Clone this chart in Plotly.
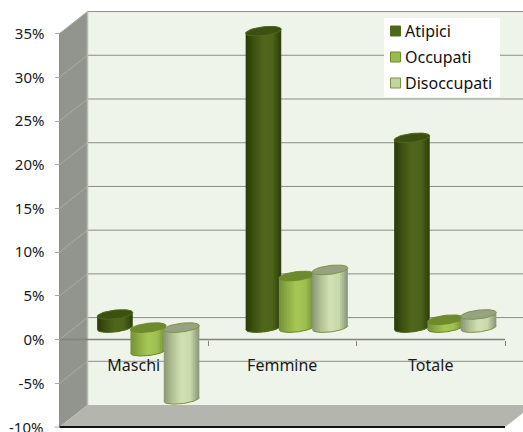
import numpy as np
import plotly.graph_objects as go

categories = ["Maschi", "Femmine", "Totale"]
atipici = [1.5, 33.9, 21.7]
occupati = [-2.7, 5.9, 0.9]
disoccupati = [-8.2, 6.6, 1.5]
y_ticks = [-10, -5, 0, 5, 10, 15, 20, 25, 30, 35]
y_labels = ["-10%", "-5%", "0%", "5%", "10%", "15%", "20%", "25%", "30%", "35%"]

W, H = 523, 432
PX_X = 148.5            # pixels per category
PX_Y = 8.744            # pixels per percentage point
X0, Y0 = 59.5, 339.6    # front-plane origin in pixels

x_range = [(0 - X0) / PX_X, (W - X0) / PX_X]
y_range = [(Y0 - H) / PX_Y, Y0 / PX_Y]

DX, DY = 28 / PX_X, 22 / PX_Y          # depth of the box
MIDX, MIDY = 14.5 / PX_X, 12 / PX_Y    # plane the cylinders stand on
STEP = 33.3 / PX_X
A, B, TILT = 17.8 / PX_X, 4.4 / PX_Y, 2.0 / PX_Y
STRIPS = 18
FONT = "Noto Sans"

series = [
    ("Atipici", atipici,
     ["#2b3b0b", "#3f5412", "#50681d", "#4d641b", "#2d3e0c"], "#3c5011", "#4f6a18", "#4f661b"),
    ("Occupati", occupati,
     ["#74903a", "#8fae45", "#a6c956", "#9dbf50", "#6f8a33"], "#6e8a2f", "#6d8a2a", "#9bbb50"),
    ("Disoccupati", disoccupati,
     ["#8b9678", "#b4c296", "#d3e2b4", "#c9d8aa", "#87937a"], "#98a283", "#7a9440", "#c3d3a3"),
]


def shade(stops, t):
    rgb = np.array([[int(c[i:i + 2], 16) for i in (1, 3, 5)] for c in stops], float)
    pos = np.linspace(0, 1, len(stops))
    return "rgb(%d,%d,%d)" % tuple(np.interp(t, pos, rgb[:, k]) for k in range(3))


def cylinder(cx, value, stops, top_color, edge):
    """Shaded strips, lower rim and cap of one cylinder, in axis units."""
    base_y, top_y = min(0, value) + MIDY, max(0, value) + MIDY
    out = []
    edges = np.linspace(-1, 1, STRIPS + 1)
    for i in range(STRIPS):
        u0, u1 = edges[i], min(edges[i + 1] + 0.06, 1)
        us = np.linspace(u0, u1, 4)
        lower = base_y - B * np.sqrt(1 - us ** 2) + TILT * us
        upper = top_y + TILT * us
        xs = cx + A * us
        out.append(go.Scatter(
            x=np.r_[xs, xs[::-1], xs[0]], y=np.r_[lower, upper[::-1], lower[0]],
            mode="none", fill="toself", fillcolor=shade(stops, (i + 0.5) / STRIPS),
            hoverinfo="skip", showlegend=False))
    u = np.linspace(-1, 1, 41)
    out.append(go.Scatter(
        x=cx + A * u, y=base_y - B * np.sqrt(1 - u ** 2) + TILT * u,
        mode="lines", line=dict(color=edge, width=1), hoverinfo="skip", showlegend=False))
    t = np.linspace(0, 2 * np.pi, 61)
    out.append(go.Scatter(
        x=cx + A * np.cos(t), y=top_y + B * np.sin(t) + TILT * np.cos(t),
        mode="lines", line=dict(color=edge, width=1), fill="toself", fillcolor=top_color,
        hoverinfo="skip", showlegend=False))
    return out


fig = go.Figure()
for c in range(len(categories)):
    for s, (name, values, stops, top_color, edge, _) in enumerate(series):
        cx = c + 0.5 + MIDX + (s - 1) * STEP
        for tr in cylinder(cx, values[c], stops, top_color, edge):
            fig.add_trace(tr)

# Box: back wall, side wall and floor sit under the traces
shapes = []
x_end = x_range[1] + 0.2
y_min, y_max = y_ticks[0], y_ticks[-1]


def poly(points, fill):
    path = "M" + " L".join(f"{x},{y}" for x, y in points) + " Z"
    return dict(type="path", path=path, fillcolor=fill, line_width=0, layer="below")


def seg(x0, y0, x1, y1, color="#8b8d86", width=1):
    return dict(type="line", x0=x0, y0=y0, x1=x1, y1=y1, layer="below",
                line=dict(color=color, width=width))


shapes.append(poly([(DX, y_min + DY), (x_end, y_min + DY), (x_end, y_max + DY), (DX, y_max + DY)], "#eff4ea"))
shapes.append(poly([(0, y_min), (DX, y_min + DY), (DX, y_max + DY), (0, y_max)], "#92948e"))
shapes.append(poly([(0, y_min), (3, y_min), (3 + DX, y_min + DY), (DX, y_min + DY)], "#b3b5ae"))
for v in y_ticks[1:]:
    shapes.append(seg(0, v, DX, v + DY, "#a9aba4"))
    shapes.append(seg(DX, v + DY, x_end, v + DY))
shapes.append(seg(0, y_min, 0, y_max, "#8b8d86"))
shapes.append(seg(DX, y_min + DY, DX, y_max + DY, "#b9bbb4", 1.5))
shapes.append(seg(0, 0, 3, 0, "#80827c", 1.5))
shapes.append(seg(0, y_min, 3, y_min, "#111111", 2))
# The lowest tick falls at the page edge, where the axis drops its own label
shapes.append(seg(-5 / PX_X, y_min, 0, y_min, "#a9aba4"))


# Legend panel, in page pixels
def px(x):
    return x / W


def py(y):
    return 1 - y / H


shapes.append(dict(type="rect", xref="paper", yref="paper", x0=px(384), x1=px(500),
                   y0=py(97), y1=py(18), fillcolor="#ffffff", line_width=0, layer="above"))
annotations = [dict(x=-15 / PX_X, y=y_min, text=y_labels[0], showarrow=False,
                    xanchor="right", yanchor="middle", xshift=0,
                    font=dict(family=FONT, size=15, color="#1a1a1a"))]
for s, (name, _, stops, top_color, edge, swatch) in enumerate(series):
    yc = 31 + s * 26
    shapes.append(dict(type="rect", xref="paper", yref="paper", x0=px(390.5), x1=px(400.5),
                       y0=py(yc + 5), y1=py(yc - 5), fillcolor=swatch,
                       line=dict(color=edge, width=1), layer="above"))
    annotations.append(dict(xref="paper", yref="paper", x=px(403), y=py(yc), text=name,
                            showarrow=False, xanchor="left", yanchor="middle",
                            font=dict(family=FONT, size=16, color="#111111")))

fig.update_layout(
    width=W, height=H, margin=dict(l=0, r=0, t=0, b=0),
    paper_bgcolor="white", plot_bgcolor="white", showlegend=False,
    shapes=shapes, annotations=annotations,
    font=dict(family=FONT, size=15, color="#1a1a1a"),
    xaxis=dict(
        range=x_range, domain=[0, 1], anchor="free", position=(H - Y0) / H,
        tickmode="array", tickvals=[0.5, 1.5, 2.5], ticktext=categories,
        tickfont=dict(size=16), ticks="", showgrid=False, zeroline=False,
        showline=False, ticklabelstandoff=14,
        minor=dict(tickmode="array", tickvals=[1, 2, 3], ticks="outside", ticklen=5,
                   tickcolor="#80827c", tickwidth=1, showgrid=False),
    ),
    yaxis=dict(
        range=y_range, domain=[0, 1], anchor="free", position=X0 / W,
        tickmode="array", tickvals=y_ticks[1:], ticktext=y_labels[1:],
        ticks="outside", ticklen=5, tickcolor="#a9aba4", showgrid=False,
        zeroline=False, showline=False, ticklabelstandoff=7,
    ),
)
fig.write_html("out.html")
